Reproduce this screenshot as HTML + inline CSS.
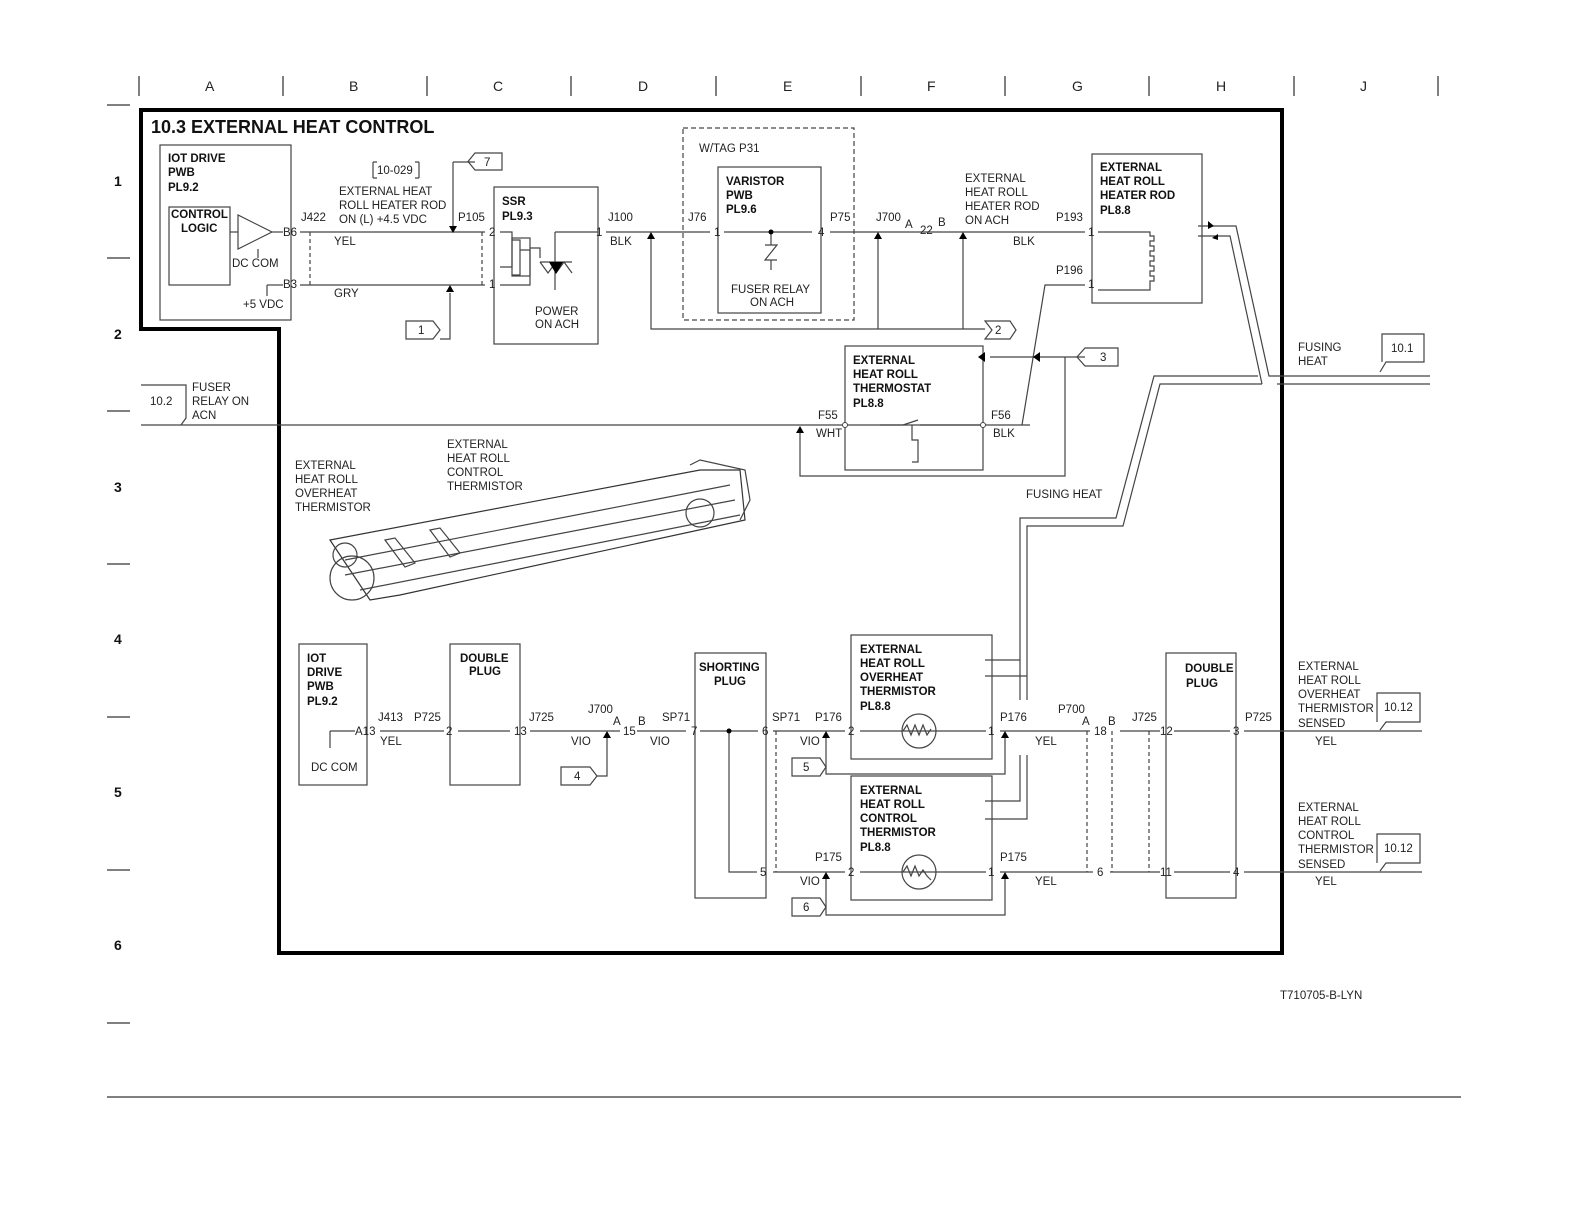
<!DOCTYPE html>
<html><head><style>
html,body{margin:0;padding:0;background:#fff;overflow:hidden;width:1584px;height:1224px}
svg{display:block}
text{font-family:"Liberation Sans",sans-serif;font-size:11.5px;fill:#222}
.b{font-weight:bold;fill:#111}
.h{font-size:14px}
</style></head><body>
<svg width="1584" height="1224" viewBox="0 0 1584 1224" xmlns="http://www.w3.org/2000/svg">
<g stroke="#000" fill="none" stroke-width="1">
<line x1="139" y1="76" x2="139" y2="96"/><line x1="283" y1="76" x2="283" y2="96"/><line x1="427" y1="76" x2="427" y2="96"/><line x1="571" y1="76" x2="571" y2="96"/><line x1="716" y1="76" x2="716" y2="96"/><line x1="861" y1="76" x2="861" y2="96"/><line x1="1005" y1="76" x2="1005" y2="96"/><line x1="1149" y1="76" x2="1149" y2="96"/><line x1="1294" y1="76" x2="1294" y2="96"/><line x1="1438" y1="76" x2="1438" y2="96"/>
<line x1="107" y1="105" x2="130" y2="105"/><line x1="107" y1="258" x2="130" y2="258"/><line x1="107" y1="411" x2="130" y2="411"/><line x1="107" y1="564" x2="130" y2="564"/><line x1="107" y1="717" x2="130" y2="717"/><line x1="107" y1="870" x2="130" y2="870"/><line x1="107" y1="1023" x2="130" y2="1023"/>
<line x1="107" y1="1097" x2="1461" y2="1097"/>
<path d="M141,110H1282V953H279V329H141Z" stroke-width="4"/>
</g>
<g class="h">
<text x="205" y="91" class="h">A</text><text x="349" y="91" class="h">B</text><text x="493" y="91" class="h">C</text><text x="638" y="91" class="h">D</text><text x="783" y="91" class="h">E</text><text x="927" y="91" class="h">F</text><text x="1072" y="91" class="h">G</text><text x="1216" y="91" class="h">H</text><text x="1360" y="91" class="h">J</text>
<text x="114" y="186" class="h b">1</text><text x="114" y="339" class="h b">2</text><text x="114" y="492" class="h b">3</text><text x="114" y="644" class="h b">4</text><text x="114" y="797" class="h b">5</text><text x="114" y="950" class="h b">6</text>
</g>
<text x="151" y="133" class="b" style="font-size:18px">10.3 EXTERNAL HEAT CONTROL</text>

<g stroke="#444" fill="none" stroke-width="1.2">
<rect x="160" y="145" width="131" height="175"/>
<rect x="169" y="207" width="61" height="78"/>
<path d="M238,215L238,249L272,232Z"/>
<line x1="230" y1="232" x2="238" y2="232"/><line x1="272" y1="232" x2="283" y2="232"/>
<line x1="300" y1="232" x2="485" y2="232"/><line x1="300" y1="285" x2="485" y2="285"/>
<line x1="267" y1="285" x2="283" y2="285"/><line x1="267" y1="285" x2="267" y2="296"/>
<line x1="258" y1="249" x2="258" y2="258"/>
<line x1="310" y1="232" x2="310" y2="285" stroke-dasharray="4,3"/><line x1="482" y1="232" x2="482" y2="285" stroke-dasharray="4,3"/>
<path d="M373,162V178M373,162h4M373,178h4M419,162V178M419,162h-4M419,178h-4"/>
<path d="M453,162H475M453,162V226"/><path d="M475,153H502V170H475L468,161.5Z"/>
<path d="M440,339H450V293"/><path d="M406,321H433L440,330L433,339H406Z"/>
<rect x="494" y="187" width="104" height="157"/>
<path d="M500,232H512V267H500M512,240H520V275H512M520,250H530V285H500"/>
<rect x="512" y="238" width="18" height="38"/>
<path d="M530,248H540V258M555,232V290M555,232H598"/>
<path d="M540,262H572M540,262L548,273L556,262M556,273L564,262L572,273"/>
<line x1="606" y1="232" x2="710" y2="232"/>
<rect x="683" y="128" width="171" height="192" stroke-dasharray="5,3"/>
<rect x="718" y="167" width="103" height="146"/>
<path d="M724,232H812M771,232V245M765,245H777L765,260H777M771,260V270"/>
<line x1="830" y1="232" x2="1085" y2="232"/>
<path d="M651,239V329H985"/><path d="M878,239V329M963,239V329"/>
<path d="M985,321H1010L1016,330L1010,339H985L992,330Z"/>
<rect x="1092" y="154" width="110" height="149"/>
<path d="M1098,232H1150V236h4v5h-4v5h4v5h-4v5h4v5h-4v5h4v5h-4v5h4v5h-4v9H1098"/>
<path d="M1085,285H1045L1022,425"/>
<rect x="845" y="346" width="138" height="124"/>
<line x1="141" y1="425" x2="1030" y2="425"/>
<path d="M880,425H903M903,425L918,420M920,425H983M912,425V440H918V462H912"/>
<path d="M990,357H1085M1065,357V476H800V432"/>
<path d="M1085,348H1118V366H1085L1077,357Z"/>
<path d="M141,385H186V418H186L181,425"/>
<path d="M1198,226H1236L1269,376H1430"/>
<path d="M1198,236H1230L1262,384"/>
<path d="M1277,384H1430"/>
<path d="M1258,376H1154L1116,518H1020V700"/>
<path d="M1262,384H1160L1123,526H1027V700"/>
<path d="M1380,372L1386,362H1424V334H1382V362"/>
<rect x="299" y="644" width="68" height="141"/>
<rect x="450" y="644" width="70" height="141"/>
<rect x="695" y="653" width="71" height="245"/>
<rect x="851" y="635" width="141" height="124"/>
<rect x="851" y="776" width="141" height="124"/>
<rect x="1166" y="653" width="70" height="245"/>
<path d="M330,731H355M330,731V748M380,731H444M458,731H510M530,731H620M637,731H686M700,731H758M773,731H845M860,731H986M1000,731H1090M1120,731H1160M1174,731H1230M1244,731H1422"/>
<path d="M729,731V872H757M773,872H845M860,872H986M1000,872H1093M1110,872H1160M1174,872H1230M1244,872H1422"/>
<circle cx="919" cy="731" r="17"/><circle cx="919" cy="872" r="17"/>
<path d="M903,731l4,-6l4,10l4,-10l4,10l4,-10l4,10l4,-6"/>
<path d="M903,872l4,-6l4,10l4,-10l4,10l4,-6l4,6l4,4"/>
<path d="M607,738V776H597"/><path d="M561,767H590L597,776L590,785H561Z"/>
<path d="M776,731V872" stroke-dasharray="4,3"/>
<path d="M1087,731V872M1112,731V872M1149,731V872" stroke-dasharray="4,3"/>
<path d="M826,738V774H1005V738"/><path d="M792,758H820L826,767L820,776H792Z"/>
<path d="M826,879V915H1005V879"/><path d="M792,898H820L826,907L820,916H792Z"/>
<path d="M985,660H1020M985,676H1027"/>
<path d="M985,801H1020V755M985,819H1027V755"/>
<path d="M1380,730L1386,722H1420V693H1377V722"/>
<path d="M1380,871L1386,863H1420V834H1377V863"/>
<path d="M330,540L700,470L740,470L745,520L400,595L370,600Z" stroke="#333"/>
<path d="M345,560L730,485M345,575L735,500M360,590L740,515"/>
<circle cx="352" cy="578" r="22"/><circle cx="345" cy="555" r="12"/>
<path d="M385,540l10,-2l20,25l-10,4zM430,530l10,-2l20,25l-10,4z"/>
<path d="M690,465l10,-5l45,10l5,30l-10,20"/>
<circle cx="700" cy="513" r="14"/>
</g>
<g fill="#000">
<path d="M449,226h8l-4,7z"/><path d="M446,292h8l-4,-7z"/><path d="M647,239h8l-4,-7z"/><path d="M874,239h8l-4,-7z"/><path d="M959,239h8l-4,-7z"/>
<path d="M985,352v10l-7,-5z"/><path d="M1040,352v10l-7,-5z"/><path d="M796,433h8l-4,-7z"/>
<path d="M603,738h8l-4,-7z"/><path d="M822,738h8l-4,-7z"/><path d="M1001,738h8l-4,-7z"/><path d="M822,879h8l-4,-7z"/><path d="M1001,879h8l-4,-7z"/>
<circle cx="771" cy="232" r="2.5"/><circle cx="729" cy="731" r="2.5"/>
<path d="M549,262h14l-7,12z"/><path d="M1208,221l6,5l-6,3z"/><path d="M1212,238l6,-4l0,6z"/>
</g>
<g fill="#fff" stroke="#444"><circle cx="845" cy="425" r="2.5"/><circle cx="983" cy="425" r="2.5"/></g>
<g>
<text x="168" y="162" class="b">IOT DRIVE</text><text x="168" y="176" class="b">PWB</text><text x="168" y="191" class="b">PL9.2</text>
<text x="171" y="218" class="b">CONTROL</text><text x="181" y="232" class="b">LOGIC</text>
<text x="232" y="267">DC COM</text><text x="283" y="236">B6</text><text x="283" y="288">B3</text><text x="243" y="308">+5 VDC</text>
<text x="301" y="221">J422</text><text x="334" y="245">YEL</text><text x="334" y="297">GRY</text>
<text x="377" y="174">10-029</text>
<text x="339" y="195">EXTERNAL HEAT</text><text x="339" y="209">ROLL HEATER ROD</text><text x="339" y="223">ON (L) +4.5 VDC</text>
<text x="458" y="221">P105</text><text x="489" y="236">2</text><text x="489" y="288">1</text>
<text x="484" y="166">7</text><text x="418" y="334">1</text>
<text x="502" y="205" class="b">SSR</text><text x="502" y="220" class="b">PL9.3</text>
<text x="535" y="315">POWER</text><text x="535" y="328">ON ACH</text>
<text x="596" y="236">1</text><text x="608" y="221">J100</text><text x="610" y="245">BLK</text>
<text x="699" y="152">W/TAG P31</text><text x="688" y="221">J76</text><text x="714" y="236">1</text><text x="818" y="236">4</text><text x="830" y="221">P75</text>
<text x="726" y="185" class="b">VARISTOR</text><text x="726" y="199" class="b">PWB</text><text x="726" y="213" class="b">PL9.6</text>
<text x="731" y="293">FUSER RELAY</text><text x="750" y="306">ON ACH</text>
<text x="876" y="221">J700</text><text x="905" y="228">A</text><text x="920" y="234">22</text><text x="938" y="226">B</text>
<text x="965" y="182">EXTERNAL</text><text x="965" y="196">HEAT ROLL</text><text x="965" y="210">HEATER ROD</text><text x="965" y="224">ON ACH</text>
<text x="1013" y="245">BLK</text><text x="1056" y="221">P193</text><text x="1056" y="274">P196</text><text x="1088" y="236">1</text><text x="1088" y="288">1</text>
<text x="995" y="334">2</text><text x="1100" y="361">3</text>
<text x="1100" y="171" class="b">EXTERNAL</text><text x="1100" y="185" class="b">HEAT ROLL</text><text x="1100" y="199" class="b">HEATER ROD</text><text x="1100" y="214" class="b">PL8.8</text>
<text x="1298" y="351">FUSING</text><text x="1298" y="365">HEAT</text><text x="1391" y="352">10.1</text>
<text x="853" y="364" class="b">EXTERNAL</text><text x="853" y="378" class="b">HEAT ROLL</text><text x="853" y="392" class="b">THERMOSTAT</text><text x="853" y="407" class="b">PL8.8</text>
<text x="818" y="419">F55</text><text x="816" y="437">WHT</text><text x="991" y="419">F56</text><text x="993" y="437">BLK</text>
<text x="150" y="405">10.2</text><text x="192" y="391">FUSER</text><text x="192" y="405">RELAY ON</text><text x="192" y="419">ACN</text>
<text x="1026" y="498">FUSING HEAT</text>
<text x="447" y="448">EXTERNAL</text><text x="447" y="462">HEAT ROLL</text><text x="447" y="476">CONTROL</text><text x="447" y="490">THERMISTOR</text>
<text x="295" y="469">EXTERNAL</text><text x="295" y="483">HEAT ROLL</text><text x="295" y="497">OVERHEAT</text><text x="295" y="511">THERMISTOR</text>
<text x="307" y="662" class="b">IOT</text><text x="307" y="676" class="b">DRIVE</text><text x="307" y="690" class="b">PWB</text><text x="307" y="705" class="b">PL9.2</text>
<text x="311" y="771">DC COM</text><text x="355" y="735">A13</text><text x="378" y="721">J413</text><text x="380" y="745">YEL</text>
<text x="414" y="721">P725</text><text x="446" y="735">2</text><text x="514" y="735">13</text><text x="529" y="721">J725</text>
<text x="460" y="662" class="b">DOUBLE</text><text x="469" y="675" class="b">PLUG</text>
<text x="588" y="713">J700</text><text x="613" y="725">A</text><text x="623" y="735">15</text><text x="638" y="725">B</text><text x="571" y="745">VIO</text><text x="650" y="745">VIO</text><text x="662" y="721">SP71</text>
<text x="574" y="780">4</text><text x="803" y="771">5</text><text x="803" y="911">6</text>
<text x="699" y="671" class="b">SHORTING</text><text x="714" y="685" class="b">PLUG</text>
<text x="691" y="735">7</text><text x="762" y="735">6</text><text x="760" y="876">5</text>
<text x="772" y="721">SP71</text><text x="815" y="721">P176</text><text x="848" y="735">2</text><text x="800" y="745">VIO</text>
<text x="815" y="861">P175</text><text x="848" y="876">2</text><text x="800" y="885">VIO</text>
<text x="860" y="653" class="b">EXTERNAL</text><text x="860" y="667" class="b">HEAT ROLL</text><text x="860" y="681" class="b">OVERHEAT</text><text x="860" y="695" class="b">THERMISTOR</text><text x="860" y="710" class="b">PL8.8</text>
<text x="860" y="794" class="b">EXTERNAL</text><text x="860" y="808" class="b">HEAT ROLL</text><text x="860" y="822" class="b">CONTROL</text><text x="860" y="836" class="b">THERMISTOR</text><text x="860" y="851" class="b">PL8.8</text>
<text x="988" y="735">1</text><text x="1000" y="721">P176</text><text x="1035" y="745">YEL</text>
<text x="988" y="876">1</text><text x="1000" y="861">P175</text><text x="1035" y="885">YEL</text>
<text x="1058" y="713">P700</text><text x="1082" y="725">A</text><text x="1094" y="735">18</text><text x="1108" y="725">B</text><text x="1097" y="876">6</text>
<text x="1132" y="721">J725</text><text x="1160" y="735">12</text><text x="1160" y="876">11</text><text x="1233" y="735">3</text><text x="1233" y="876">4</text><text x="1245" y="721">P725</text>
<text x="1185" y="672" class="b">DOUBLE</text><text x="1186" y="687" class="b">PLUG</text>
<text x="1298" y="670">EXTERNAL</text><text x="1298" y="684">HEAT ROLL</text><text x="1298" y="698">OVERHEAT</text><text x="1298" y="712">THERMISTOR</text><text x="1298" y="727">SENSED</text><text x="1315" y="745">YEL</text><text x="1384" y="711">10.12</text>
<text x="1298" y="811">EXTERNAL</text><text x="1298" y="825">HEAT ROLL</text><text x="1298" y="839">CONTROL</text><text x="1298" y="853">THERMISTOR</text><text x="1298" y="868">SENSED</text><text x="1315" y="885">YEL</text><text x="1384" y="852">10.12</text>
<text x="1280" y="999">T710705-B-LYN</text>
</g>
</svg>
</body></html>
